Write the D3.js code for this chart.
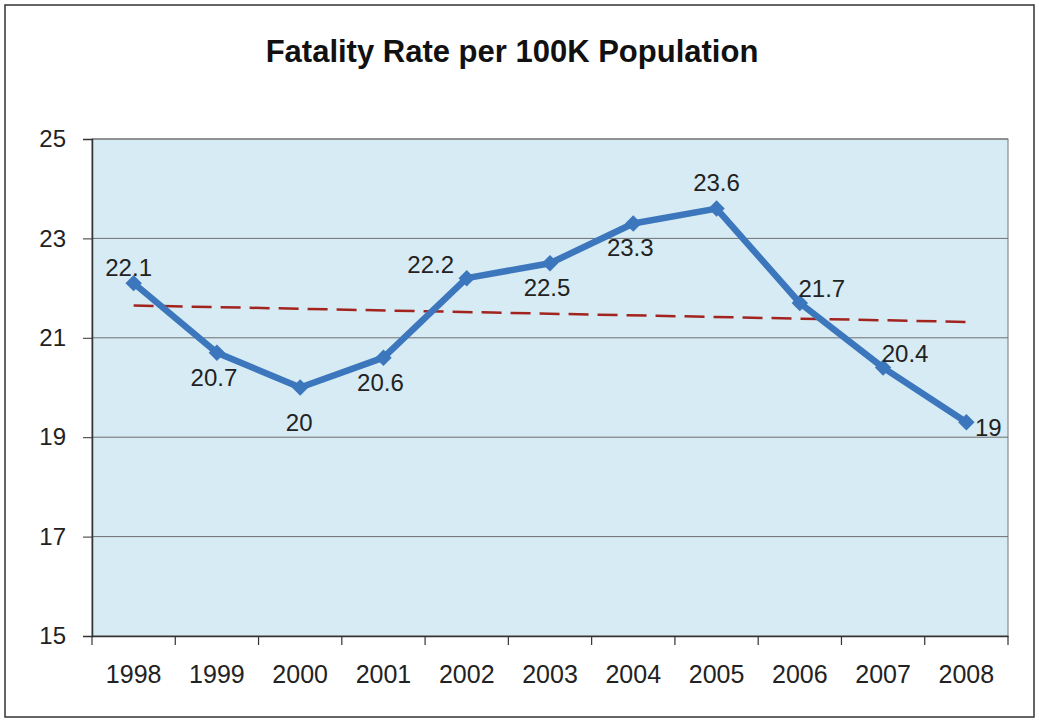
<!DOCTYPE html>
<html><head><meta charset="utf-8">
<script src="https://cdn.jsdelivr.net/npm/d3@7"></script>
<style>body{margin:0;background:#fff}svg{display:block}</style>
</head><body>
<script>
const title = "Fatality Rate per 100K Population";
const years = ["1998","1999","2000","2001","2002","2003","2004","2005","2006","2007","2008"];
const rates = [22.1,20.7,20,20.6,22.2,22.5,23.3,23.6,21.7,20.4,19.3];
const rateLabels = ["22.1","20.7","20","20.6","22.2","22.5","23.3","23.6","21.7","20.4","19"];
const labelPlacement = ["aboveTight","below","below2","below","leftAbove","below","below","above","rightAbove","rightAbove","right"];
const yTicks = [15,17,19,21,23,25];
const trendEnds = [21.65, 21.32];

const W = 1039, H = 723;
const svg = d3.select("body").append("svg").attr("width", W).attr("height", H);
const font = "'Liberation Sans', Arial, sans-serif";

// outer frame
svg.append("rect").attr("x",5).attr("y",5).attr("width",1029).attr("height",712)
  .attr("fill","#fff").attr("stroke","#333").attr("stroke-width",1.5);

const m = {l:92, r:1008, t:139, b:636};
const x = d3.scaleBand().domain(years).range([m.l, m.r]);
const y = d3.scaleLinear().domain([15,25]).range([m.b, m.t]);

svg.append("rect").attr("x",m.l).attr("y",m.t).attr("width",m.r-m.l).attr("height",m.b-m.t)
  .attr("fill","#d6ebf3").attr("stroke","#777").attr("stroke-width",1);

// gridlines
svg.append("g").selectAll("line").data(yTicks.filter(d=>d>15)).join("line")
  .attr("x1",m.l).attr("x2",m.r).attr("y1",d=>y(d)).attr("y2",d=>y(d))
  .attr("stroke","#6f6f6f").attr("stroke-width",1);

// y axis
const ya = svg.append("g").attr("transform",`translate(${m.l},0)`)
  .call(d3.axisLeft(y).tickValues(yTicks).tickSize(9).tickPadding(17));
ya.select(".domain").attr("stroke","#333").attr("stroke-width",1.5);
ya.selectAll(".tick line").attr("stroke","#333");
ya.selectAll("text").attr("font-family",font).attr("font-size",24).attr("fill","#222");

// x axis
const xa = svg.append("g").attr("transform",`translate(0,${m.b})`)
  .call(d3.axisBottom(x).tickSize(0).tickPadding(29));
xa.select(".domain").attr("stroke","#333").attr("stroke-width",1.5);
xa.selectAll("text").attr("font-family",font).attr("font-size",25).attr("fill","#222");
xa.selectAll(".sep").data(years.concat(["end"])).join("line").attr("class","sep")
  .attr("x1",(d,i)=>m.l + i*x.step()).attr("x2",(d,i)=>m.l + i*x.step())
  .attr("y1",0).attr("y2",9).attr("stroke","#333").attr("stroke-width",1.2);

const cx = d => x(d) + x.bandwidth()/2;

// trend line
svg.append("line")
  .attr("x1",cx(years[0])).attr("x2",cx(years[years.length-1]))
  .attr("y1",y(trendEnds[0])).attr("y2",y(trendEnds[1]))
  .attr("stroke","#a3231f").attr("stroke-width",2.5).attr("stroke-dasharray","20,9");

// series line
const line = d3.line().x((d,i)=>cx(years[i])).y(d=>y(d));
svg.append("path").datum(rates).attr("d",line).attr("fill","none")
  .attr("stroke","#3c76bd").attr("stroke-width",6.5).attr("stroke-linejoin","round");

svg.append("g").selectAll("path").data(rates).join("path")
  .attr("d", d3.symbol().type(d3.symbolSquare).size(135))
  .attr("transform",(d,i)=>`translate(${cx(years[i])},${y(d)}) rotate(45)`)
  .attr("fill","#3c76bd");

// labels
const offs = {aboveTight:[-5,-7], above:[0,-18], below:[-3,33], below2:[-1,43], leftAbove:[-36,-5], rightAbove:[22,-6], right:[22,14]};
svg.append("g").selectAll("text").data(rateLabels).join("text")
  .attr("x",(d,i)=>cx(years[i]) + offs[labelPlacement[i]][0])
  .attr("y",(d,i)=>y(rates[i]) + offs[labelPlacement[i]][1])
  .attr("text-anchor","middle").attr("font-family",font).attr("font-size",24).attr("fill","#222")
  .text(d=>d);

// title
svg.append("text").attr("x",512).attr("y",62).attr("text-anchor","middle")
  .attr("font-family",font).attr("font-weight","bold").attr("font-size",31).attr("fill","#111")
  .text(title);
</script>
</body></html>
